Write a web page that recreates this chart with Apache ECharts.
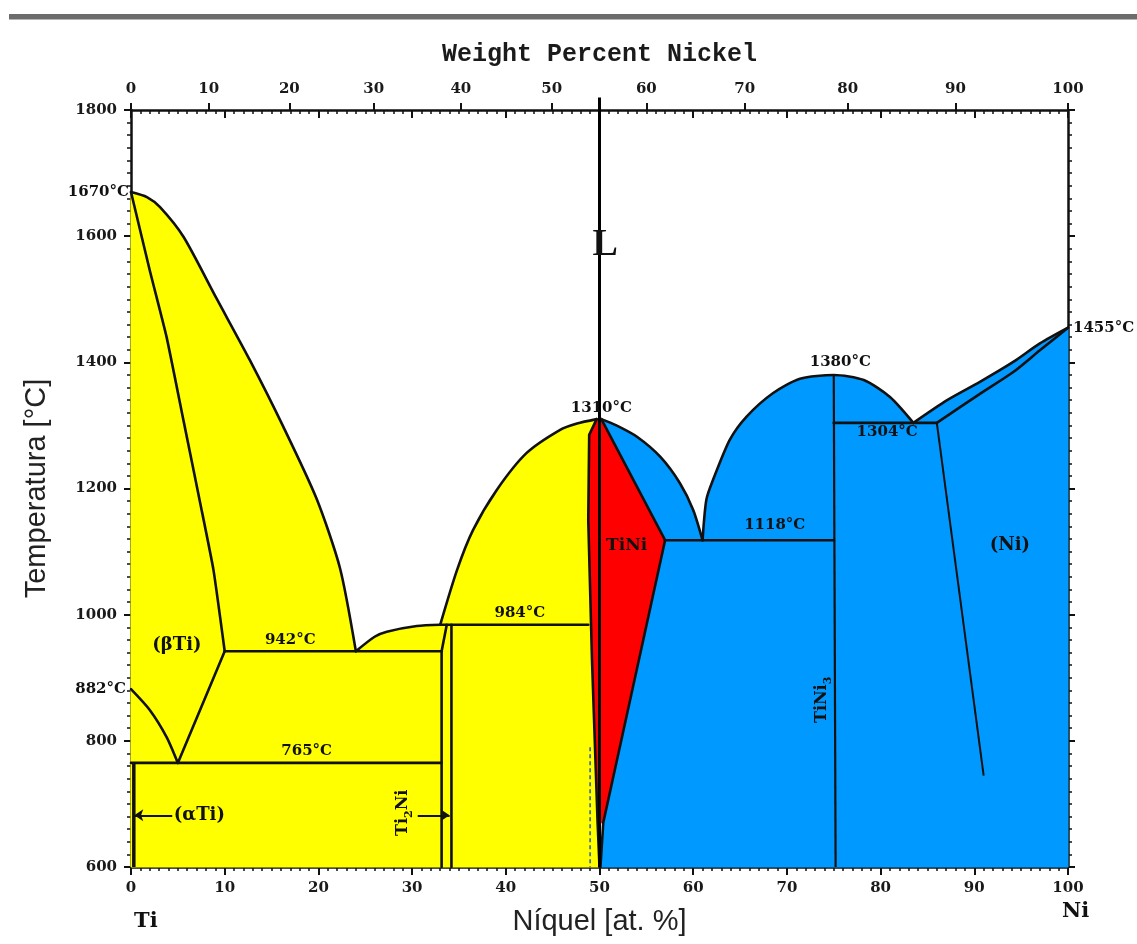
<!DOCTYPE html>
<html><head><meta charset="utf-8">
<script src="https://cdn.jsdelivr.net/npm/echarts@6/dist/echarts.min.js"></script>
<style>html,body{margin:0;padding:0;background:#fff;}#c{width:1137px;height:944px;}</style>
</head><body><div id="c"></div>
<script>
// ---- axis ticks ----
const wtLabels = ['0','10','20','30','40','50','60','70','80','90','100'];
const wtAtPos  = [0, 8.3, 16.9, 25.9, 35.2, 44.9, 55.0, 65.5, 76.5, 88.0, 100];

// ---- phase boundaries [at.% Ni, T °C] ----
const leftLiquidus   = [[0,1670],[1.7,1662],[3.1,1646],[5.6,1599],[9.1,1502],[12.7,1403],[16.25,1298],[19.8,1184],[22.3,1074],[24.0,942]];
const betaSolidus    = [[0,1670],[2.0,1546],[3.8,1440],[5.6,1308],[7.4,1176],[8.8,1071],[10.0,942]];
const eutecticArc    = [[24.0,942],[26.0,965],[27.3,973],[30.5,982],[33.0,984]];
const tiniLeftLiq    = [[33.0,984],[34.8,1071],[36.5,1134],[39.0,1197],[42.2,1256],[45.8,1293],[47.6,1303],[49.7,1310]];
const tiniLeftSide   = [[49.7,1310],[48.9,1285],[48.8,1150],[49.2,928],[49.8,670],[50.0,600]];
const tiniRightSol   = [[50.2,1310],[57.0,1118]];
const tiniRightLow   = [[57.0,1118],[50.4,670],[50.1,600]];
const tiniRightLiq   = [[50.2,1310],[51.8,1300],[54.0,1282],[56.5,1250],[58.6,1208],[60.0,1166],[61.0,1118]];
const tini3Dome      = [[61.0,1118],[61.4,1182],[62.1,1213],[63.9,1277],[65.7,1314],[68.5,1351],[71.4,1374],[75.0,1380],[78.2,1372],[81.0,1345],[83.5,1304]];
const niLiquidus     = [[83.5,1304],[87.1,1340],[90.6,1369],[94.2,1401],[97.0,1430],[100,1455]];
const niSolidus      = [[86.0,1304],[90.6,1350],[94.2,1385],[97.0,1419],[100,1455]];
const niSolvus       = [[86.0,1304],[91.0,745]];
const transus882     = [[0,882],[2.0,849],[3.8,806],[5.0,765]];
const eutectoidUp    = [[5.0,765],[10.0,942]];
const line942        = [[10.0,942],[33.15,942]];
const line765        = [[0,765],[33.15,765]];
const line984        = [[33.0,984],[48.8,984]];
const line1118       = [[57.0,1118],[75.0,1118]];
const line1304       = [[75.0,1304],[86.0,1304]];
const ti2niLeft      = [[33.15,942],[33.15,600]];
const ti2niSlant     = [[33.15,942],[33.7,984]];
const ti2niRight     = [[34.2,984],[34.2,600]];
const tini3Line      = [[75.0,1380],[75.2,600]];
const alphaTiLine    = [[0.3,765],[0.3,600]];
const dashedLine     = [[49.0,790],[49.0,600]];
const equiLine       = [[50,1820],[50,600]];
const arrowAlpha     = [[4.4,682],[0.35,682]];
const arrowTi2Ni     = [[30.6,682],[34.0,682]];

// ---- text notes [text, at.%, T] ----
const notes = [
  ['1670°C', 0, 1670], ['882°C', 0, 882], ['1455°C', 100, 1455],
  ['(βTi)', 4.9, 952], ['942°C', 17.0, 960], ['765°C', 18.75, 783],
  ['(αTi)', 7.3, 682], ['TI2NI', 29.0, 686], ['984°C', 41.5, 1002],
  ['1310°C', 50.2, 1327], ['TiNi', 52.9, 1110], ['L', 50.6, 1586],
  ['1118°C', 68.7, 1142], ['1380°C', 75.7, 1401], ['1304°C', 80.7, 1290],
  ['(Ni)', 93.8, 1110], ['TINI3', 73.7, 865]
];

const BLACK = '#111';
const F = 'DejaVu Serif';

function concat(...parts){
  let out = parts[0].slice();
  for (let i = 1; i < parts.length; i++) out = out.concat(parts[i].slice(1));
  return out;
}
const yellowPoly = concat([[0,600],[0,1670]], leftLiquidus, eutecticArc, tiniLeftLiq, tiniLeftSide);
const redPoly = concat([[49.7,1310],[50.2,1310]], [[50.2,1310],[57.0,1118]], [[57.0,1118],[50.4,670],[49.8,670]], [[49.8,670],[49.2,928],[48.8,1150],[48.9,1285]]);
const bluePoly = concat([[50.1,600],[50.4,670],[57.0,1118]], [[57.0,1118],[50.2,1310]], tiniRightLiq, tini3Dome, niLiquidus, [[100,1455],[100,600]]);

function fill(poly, color){
  return {type:'custom', silent:true, z:1, clip:false, data:[[0,600]],
    renderItem:(params, api)=>({type:'polygon', shape:{points: poly.map(p=>api.coord(p))},
      style:{fill:color, stroke:color, lineWidth:1}})};
}
function boundary(pts, extra){
  return Object.assign({type:'line', data:pts, symbol:'none', silent:true, z:3,
    lineStyle:{color:BLACK, width:2.6, cap:'round', join:'round'}}, extra||{});
}
function curve(pts, s){ return boundary(pts, {smooth: s == null ? 0.25 : s}); }

const rich = {
  n:{fontFamily:F, fontWeight:'bold', fontSize:16, lineHeight:24, fill:BLACK, color:BLACK},
  s:{fontFamily:F, fontWeight:'bold', fontSize:11, lineHeight:24, verticalAlign:'bottom', fill:BLACK, color:BLACK}
};
const special = {
  '1670°C':{align:'right', dx:-2},
  '882°C':{align:'right', dx:-5},
  '1455°C':{align:'left', dx:5},
  'L':{font:'bold 38px "Liberation Serif"'},
  '(βTi)':{font:'bold 18px '+F},
  '(αTi)':{font:'bold 18px '+F},
  '(Ni)':{font:'bold 18px '+F},
  'TiNi':{font:'bold 17px '+F},
  'TI2NI':{rot:Math.PI/2, text:'{n|Ti}{s|2}{n|Ni}'},
  'TINI3':{rot:Math.PI/2, text:'{n|TiNi}{s|3}'}
};

const labelSeries = {
  type:'custom', silent:true, z:6, clip:false,
  data: notes.map((n,i)=>[n[1], n[2], i]),
  renderItem:(params, api)=>{
    const n = notes[api.value(2)];
    const sp = special[n[0]] || {};
    const p = api.coord([api.value(0), api.value(1)]);
    const st = {text: sp.text || n[0], fill:BLACK, font: sp.font || ('bold 15px '+F),
      align: sp.align || 'center', verticalAlign:'middle'};
    if (sp.text) st.rich = rich;
    return {type:'text', x:p[0]+(sp.dx||0), y:p[1], rotation: sp.rot||0, style:st};
  }
};

const arrowSeries = {type:'line', data:[], silent:true, z:4,
  markLine:{silent:true, animation:false, symbol:['none','arrow'], symbolSize:9,
    lineStyle:{color:BLACK, width:1.8, type:'solid'}, label:{show:false},
    data:[[{coord:arrowAlpha[0]},{coord:arrowAlpha[1]}],[{coord:arrowTi2Ni[0]},{coord:arrowTi2Ni[1]}]]}};

const axisLineStyle = {show:true, onZero:false, lineStyle:{color:BLACK, width:2.5}};
const labelFont = {fontFamily:F, fontWeight:'bold', fontSize:15, color:'#1a1a1a'};
const plain = v => String(v);

const option = {
  animation:false,
  backgroundColor:'#fff',
  grid:{left:131, right:69, top:110, bottom:77, containLabel:false},
  graphic:[
    {type:'rect', shape:{x:9, y:14, width:1128, height:6}, style:{fill:'#6c6c6c'}},
    {type:'rect', shape:{x:9, y:19, width:1128, height:1}, style:{fill:'#b5b5b5'}},
    {type:'text', left:134, top:911, style:{text:'Ti', font:'bold 21px '+F, fill:BLACK}},
    {type:'text', left:1062, top:901, style:{text:'Ni', font:'bold 21px '+F, fill:BLACK}}
  ],
  xAxis:[
    {type:'value', position:'bottom', min:0, max:100, interval:10,
     axisLine:axisLineStyle,
     axisTick:{show:true, length:8, lineStyle:{color:BLACK, width:2}},
     minorTick:{show:true, splitNumber:10, length:4, lineStyle:{color:BLACK, width:1.5}},
     splitLine:{show:false}, minorSplitLine:{show:false},
     axisLabel:Object.assign({margin:14, formatter:plain}, labelFont),
     name:'Níquel [at. %]', nameLocation:'middle', nameGap:40,
     nameTextStyle:{fontFamily:'Liberation Sans', fontSize:29, color:'#222'}},
    {type:'value', position:'top', min:0, max:100, interval:10,
     axisLine:axisLineStyle,
     axisTick:{show:true, inside:true, length:8, lineStyle:{color:BLACK, width:2}},
     minorTick:{show:true, splitNumber:10, length:4, lineStyle:{color:BLACK, width:1.5}},
     splitLine:{show:false}, axisLabel:{show:false}},
    {type:'value', position:'top', min:0, max:100,
     axisLine:{show:false},
     axisTick:{show:true, customValues:wtAtPos, length:7, lineStyle:{color:BLACK, width:2}},
     splitLine:{show:false},
     axisLabel:Object.assign({show:true, customValues:wtAtPos, margin:13,
       formatter:(v)=>{ const k = wtAtPos.findIndex(a=>Math.abs(a-v)<1e-6); return k>=0 ? wtLabels[k] : ''; }}, labelFont),
     name:'Weight Percent Nickel', nameLocation:'middle', nameGap:43,
     nameTextStyle:{fontFamily:'Liberation Mono', fontWeight:'bold', fontSize:25, color:'#1a1a1a'}}
  ],
  yAxis:[
    {type:'value', position:'left', min:600, max:1800, interval:200,
     axisLine:axisLineStyle,
     axisTick:{show:true, length:7, lineStyle:{color:BLACK, width:2}},
     minorTick:{show:true, splitNumber:10, length:4, lineStyle:{color:BLACK, width:1.5}},
     splitLine:{show:false}, minorSplitLine:{show:false},
     axisLabel:Object.assign({margin:14, formatter:plain}, labelFont),
     name:'Temperatura [°C]', nameLocation:'middle', nameGap:80,
     nameTextStyle:{fontFamily:'Liberation Sans', fontSize:29, color:'#222'}},
    {type:'value', position:'right', min:600, max:1800, interval:200,
     axisLine:axisLineStyle,
     axisTick:{show:true, length:7, lineStyle:{color:BLACK, width:2}},
     minorTick:{show:true, splitNumber:10, length:4, lineStyle:{color:BLACK, width:1.5}},
     splitLine:{show:false}, axisLabel:{show:false}}
  ],
  series:[
    fill(yellowPoly, '#FFFF00'),
    fill(bluePoly, '#0099FF'),
    fill(redPoly, '#FF0000'),
    curve(leftLiquidus), curve(betaSolidus, 0.15), curve(eutecticArc),
    curve(tiniLeftLiq), boundary(tiniLeftSide), boundary(tiniRightSol),
    boundary(tiniRightLow), curve(tiniRightLiq), curve(tini3Dome, 0.25),
    curve(niLiquidus, 0.25), curve(niSolidus, 0.25), boundary(niSolvus, {lineStyle:{color:BLACK, width:2}}),
    curve(transus882, 0.25), boundary(eutectoidUp), boundary(line942), boundary(line765),
    boundary(line984), boundary(line1118), boundary(line1304),
    boundary(ti2niLeft), boundary(ti2niSlant), boundary(ti2niRight),
    boundary(tini3Line, {lineStyle:{color:BLACK, width:2.2}}),
    boundary(alphaTiLine, {lineStyle:{color:BLACK, width:3.5}}),
    boundary(dashedLine, {lineStyle:{color:'#4a6fa5', width:1.8, type:[4,3]}}),
    boundary(equiLine, {clip:false, z:5, lineStyle:{color:'#000', width:3}}),
    arrowSeries,
    labelSeries
  ]
};
const chart = echarts.init(document.getElementById('c'));
chart.setOption(option);
</script>
</body></html>
